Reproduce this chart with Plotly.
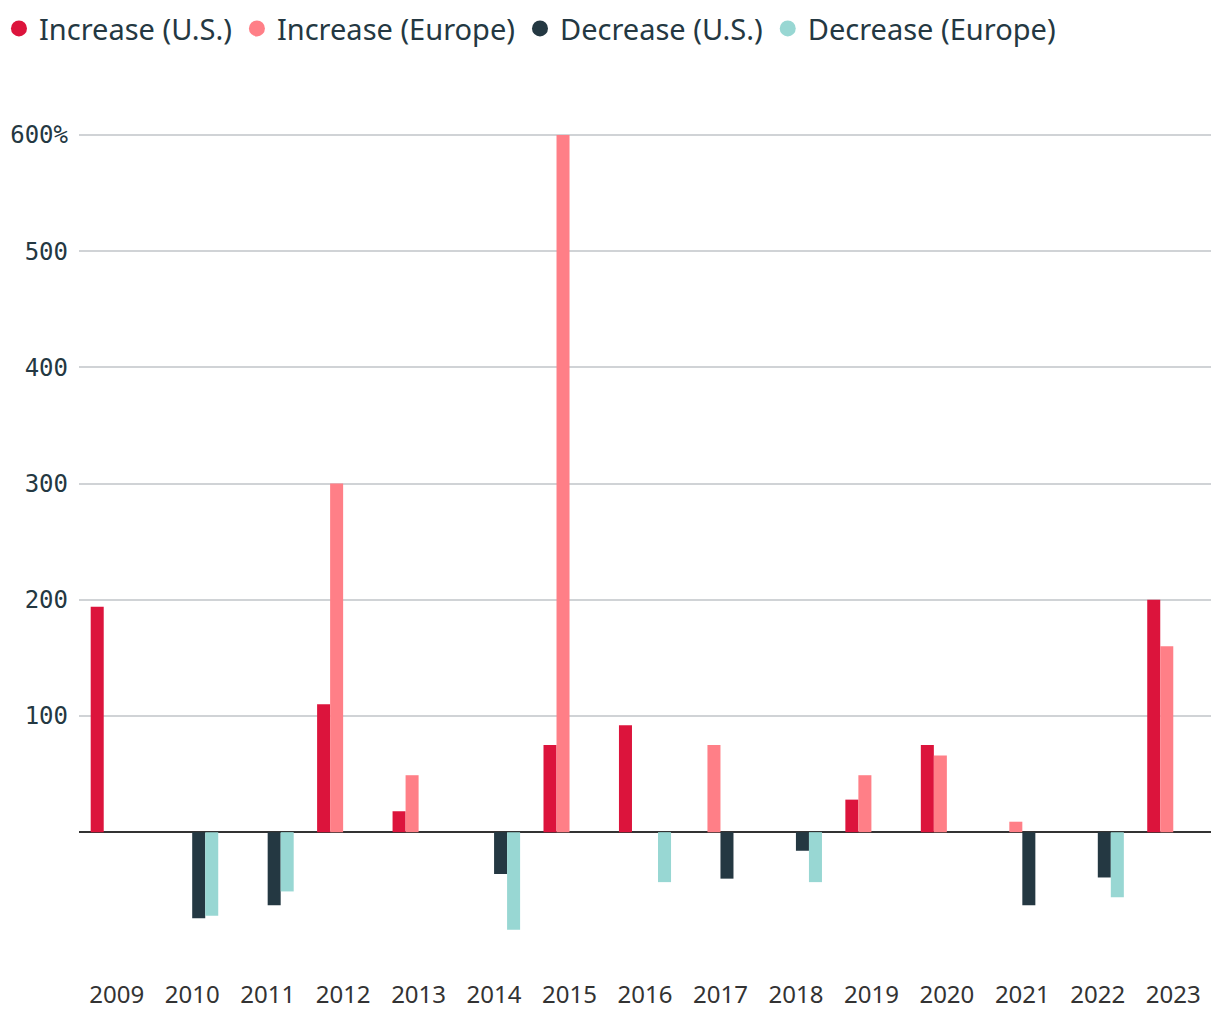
import plotly.graph_objects as go

years = ["2009", "2010", "2011", "2012", "2013", "2014", "2015", "2016",
         "2017", "2018", "2019", "2020", "2021", "2022", "2023"]
increase_us = [194, None, None, 110, 18, None, 75, 92, None, None, 28, 75, None, None, 200]
increase_eu = [None, None, None, 300, 49, None, 600, None, 75, None, 49, 66, 9, None, 160]
decrease_us = [None, -74, -63, None, None, -36, None, None, -40, -16, None, None, -63, -39, None]
decrease_eu = [None, -72, -51, None, None, -84, None, -43, None, -43, None, None, None, -56, None]

series = [
    ("Increase (U.S.)", increase_us, "#DC143C"),
    ("Increase (Europe)", increase_eu, "#FF7F87"),
    ("Decrease (U.S.)", decrease_us, "#243842"),
    ("Decrease (Europe)", decrease_eu, "#98D7D3"),
]

fig = go.Figure()
for name, vals, color in series:
    fig.add_trace(go.Bar(x=years, y=vals, name=name, marker=dict(color=color, line=dict(width=0)),
                         showlegend=False, legendgroup=name))
for name, vals, color in series:
    fig.add_trace(go.Scatter(x=[None], y=[None], mode="markers", name=name, legendgroup=name,
                             marker=dict(color=color, size=16, symbol="circle")))

fig.update_layout(
    width=1204, height=1004,
    paper_bgcolor="white", plot_bgcolor="white",
    margin=dict(l=71, r=1, t=103, b=34, autoexpand=False),
    barmode="group", bargap=0.31, bargroupgap=0,
    font=dict(family="Noto Sans", color="#243842"),
    legend=dict(orientation="h", x=-0.0707, xref="paper", y=1.1245, yref="paper",
                xanchor="left", yanchor="top",
                font=dict(size=29, family="Noto Sans", color="#243842"),
                itemwidth=30, tracegroupgap=0),
    xaxis=dict(type="category", showgrid=False, ticks="", showline=False, automargin=False,
               tickfont=dict(size=24, family="Noto Sans", color="#333333"), zeroline=False),
    yaxis=dict(range=[-125.5, 620.6], tickvals=[100, 200, 300, 400, 500, 600],
               ticktext=["100", "200", "300", "400", "500", "600%"],
               showgrid=True, gridcolor="#D0D3D6", gridwidth=1.5, automargin=False,
               zeroline=True, zerolinecolor="#333333", zerolinewidth=2,
               tickfont=dict(size=24, family="DejaVu Sans Mono", color="#243842"),
               ticks="", showline=False, layer="above traces", ticklabelstandoff=10),
)

fig.write_html("out.html")
